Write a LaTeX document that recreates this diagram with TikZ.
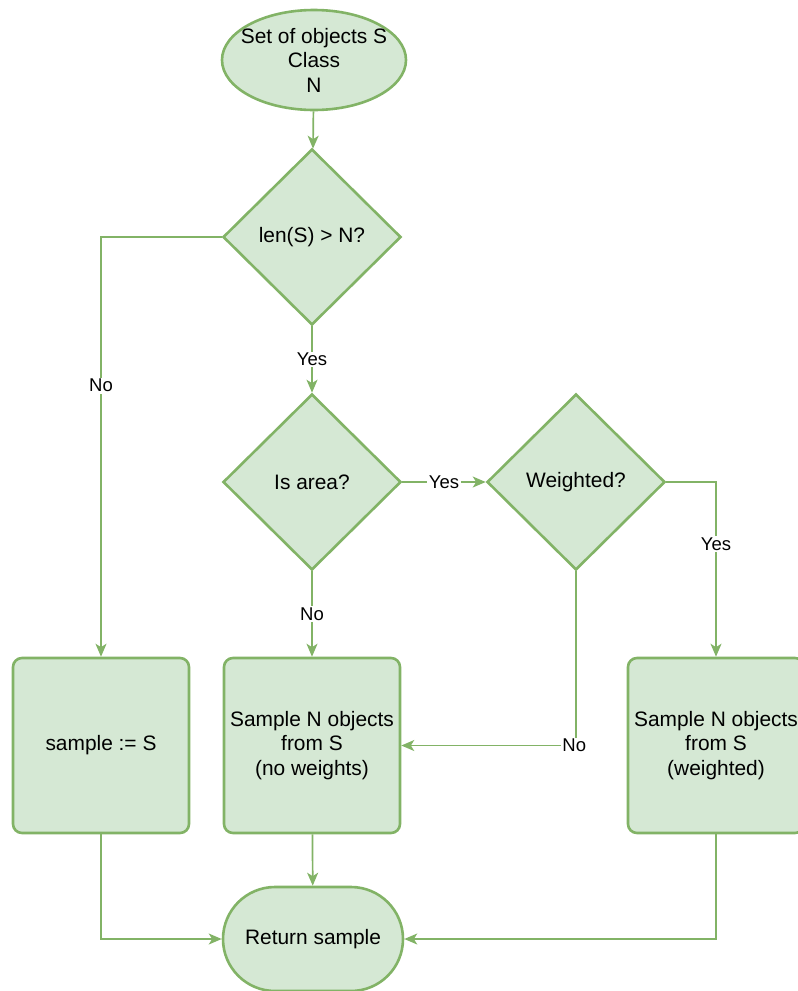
\documentclass[tikz,border=0pt]{standalone}
\usepackage{fontspec}
\setmainfont{Liberation Sans}
\usetikzlibrary{shapes.geometric,arrows.meta}

\definecolor{gfill}{HTML}{D5E8D4}
\definecolor{gline}{HTML}{82B366}

\tikzset{
  shapebase/.style={draw=gline, fill=gfill, line width=2.6pt, align=center,
    inner sep=0pt, text=black, font=\fontsize{20.9}{24.5}\selectfont},
  startnode/.style={shapebase, ellipse, inner sep=-20pt,
    minimum width=184pt, minimum height=100pt},
  decision/.style={shapebase, diamond, minimum width=178pt, minimum height=176pt},
  process/.style={shapebase, rectangle, rounded corners=9pt,
    minimum width=176pt, minimum height=175pt},
  endnode/.style={shapebase, rectangle, rounded corners=52pt,
    minimum width=180pt, minimum height=104pt},
  conn/.style={draw=gline, line width=1.7pt,
    -{Stealth[length=13pt, width=11pt, inset=3.5pt]}},
  lbl/.style={fill=white, inner sep=1.5pt, text=black,
    font=\fontsize{18.5}{22}\selectfont}
}

\begin{document}
\begin{tikzpicture}[x=1pt, y=-1pt]
  \useasboundingbox (0,0) rectangle (798,991);
  \clip (0,0) rectangle (798,991);

  % shapes
  \node[startnode] (start) at (314,60) {Set of objects S\\Class\\N};
  \node[decision] (lenq) at (312,237) {len(S) > N?};
  \node[decision] (areaq) at (312,482) {Is area?};
  \node[decision] (wq) at (576,482) {Weighted?};
  \node[process] (assign) at (101,745.5) {sample := S};
  \node[process] (plain) at (312,745.5) {Sample N objects\\from S\\(no weights)};
  \node[process] (weighted) at (716,745.5) {Sample N objects\\from S\\(weighted)};
  \node[endnode] (ret) at (313,939) {Return sample};

  % connectors
  \draw[conn] (start) -- (lenq);
  \draw[conn] (lenq.west) -| node[lbl, pos=0.677] {No} (assign.north);
  \draw[conn] (lenq) -- node[lbl] {Yes} (areaq);
  \draw[conn] (areaq) -- node[lbl] {Yes} (wq);
  \draw[conn] (areaq) -- node[lbl] {No} (plain);
  \draw[conn] (wq.south) |- node[lbl, pos=0.505] {No} (plain.east);
  \draw[conn] (wq.east) -| node[lbl, pos=0.677] {Yes} (weighted.north);
  \draw[conn] (assign.south) |- (ret.west);
  \draw[conn] (plain) -- (ret);
  \draw[conn] (weighted.south) |- (ret.east);
\end{tikzpicture}
\end{document}
